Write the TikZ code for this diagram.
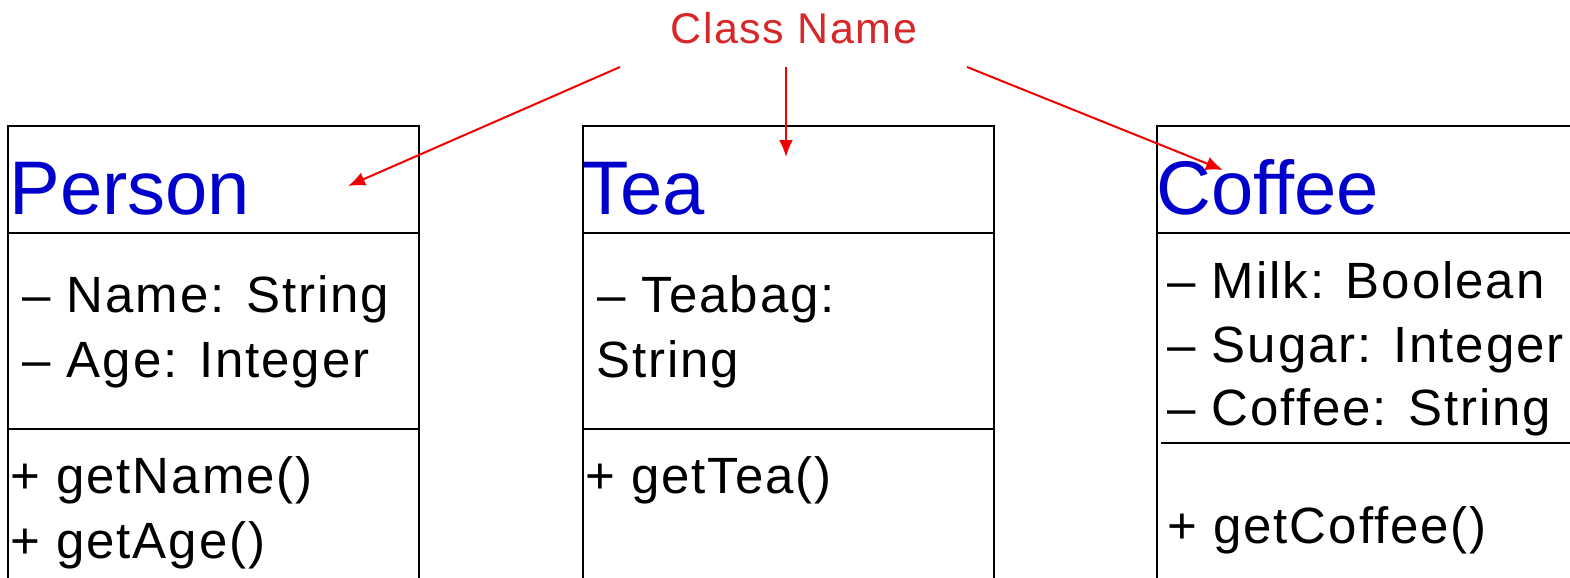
\documentclass[tikz,border=0pt]{standalone}
\usepackage{fontspec}
\setmainfont{Liberation Sans}
\usetikzlibrary{arrows.meta}
\definecolor{classblue}{RGB}{0,0,205}
\definecolor{labelred}{RGB}{214,40,40}
\definecolor{arrowred}{RGB}{240,0,0}
\begin{document}
\begin{tikzpicture}[x=0.5pt,y=-0.5pt,
  boxline/.style={draw=black,line width=1pt},
  classname/.style={anchor=base west,inner sep=0pt,text=classblue,font=\fontsize{38}{46}\selectfont},
  member/.style={anchor=base west,inner sep=0pt,text=black,font=\fontsize{25.5}{30}\selectfont\addfontfeature{LetterSpace=3.8}},
  caption/.style={anchor=base,inner sep=0pt,text=labelred,font=\fontsize{21.5}{26}\selectfont\addfontfeature{LetterSpace=3.5}},
  pointer/.style={draw=arrowred,line width=1pt,-{Latex[length=8.5pt,width=7pt]}}]
\useasboundingbox (0,0) rectangle (1570,578);
\clip (0,0) rectangle (1570,578);

% Person class box
\draw[boxline] (8,600) -- (8,126) -- (419,126) -- (419,600);
\draw[boxline] (8,233) -- (419,233);
\draw[boxline] (8,429) -- (419,429);
\node[classname] (person) at (9,214) {Person};
\node[member] (pname) at (22,312) {– Name: String};
\node[member] (page) at (22,377) {– Age: Integer};
\node[member] (pgetname) at (10,493) {+ getName()};
\node[member] (pgetage) at (10,558) {+ getAge()};

% Tea class box
\draw[boxline] (583,600) -- (583,126) -- (994,126) -- (994,600);
\draw[boxline] (583,233) -- (994,233);
\draw[boxline] (583,429) -- (994,429);
\node[classname] (tea) at (582,214) {Tea};
\node[member] (teabag) at (597,312) {– Teabag:};
\node[member] (teatype) at (596,377) {String};
\node[member] (getTea) at (585,493) {+ getTea()};

% Coffee class box
\draw[boxline] (1157,600) -- (1157,126) -- (1580,126);
\draw[boxline] (1157,233) -- (1580,233);
\draw[boxline] (1161,443) -- (1580,443);
\node[classname] (coffee) at (1156,214) {Coffee};
\node[member] (milk) at (1167,298) {– Milk: Boolean};
\node[member] (sugar) at (1167,362) {– Sugar: Integer};
\node[member] (cofftype) at (1167,425) {– Coffee: String};
\node[member] (getCoffee) at (1167,543) {+ getCoffee()};

% Caption and its pointers
\node[caption] (label) at (794,43) {Class Name};
\coordinate (fromL) at (620,67);
\coordinate (fromM) at (786,67);
\coordinate (fromR) at (967,67);
\coordinate (toPerson) at (348,186);
\coordinate (toTea) at (786,157);
\coordinate (toCoffee) at (1223,170);
\draw[pointer] (fromL) -- (toPerson);
\draw[pointer] (fromM) -- (toTea);
\draw[pointer] (fromR) -- (toCoffee);
\end{tikzpicture}
\end{document}
